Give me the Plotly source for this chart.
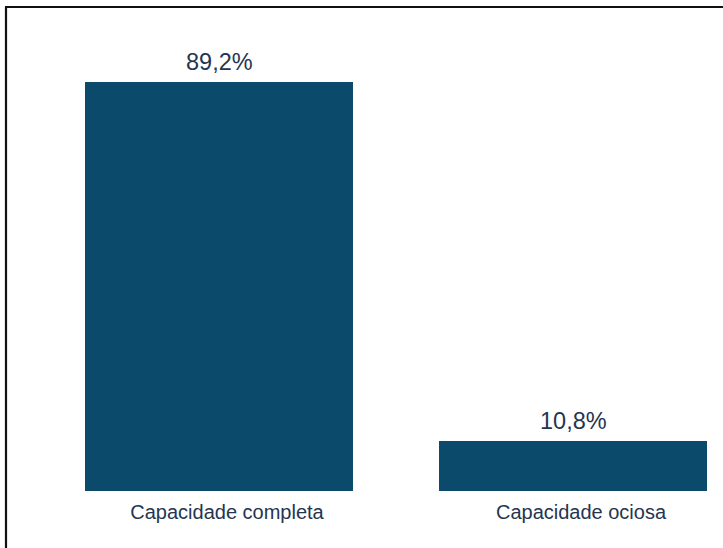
import plotly.graph_objects as go

categories = ["Capacidade completa", "Capacidade ociosa"]
values = [89.2, 10.8]
value_labels = ["89,2%", "10,8%"]

BAR_COLOR = "#0b4a6b"
TEXT_COLOR = "#26354f"

fig = go.Figure()
fig.add_trace(go.Bar(
    x=[0, 1],
    y=values,
    marker=dict(color=BAR_COLOR, line=dict(width=0)),
    width=0.757,
    hoverinfo="skip",
))

for i, (v, t) in enumerate(zip(values, value_labels)):
    fig.add_annotation(
        x=i, y=v, xref="x", yref="y", text=t, showarrow=False,
        yanchor="bottom", yshift=5,
        font=dict(family="Arial, Liberation Sans, sans-serif", size=23.5, color=TEXT_COLOR),
    )

W, H = 723, 548
plot_bottom = 491
fig.update_layout(
    width=W, height=H,
    margin=dict(l=0, r=0, t=0, b=H - plot_bottom, pad=0),
    paper_bgcolor="white", plot_bgcolor="white",
    showlegend=False,
    bargap=0,
    xaxis=dict(
        range=[-219 / 354, (W - 219) / 354],
        tickmode="array", tickvals=[0, 1], ticktext=categories,
        showgrid=False, zeroline=False, showline=False, ticks="",
        ticklabelstandoff=7,
        ticklabelshift=8,
        tickfont=dict(family="Arial, Liberation Sans, sans-serif", size=20, color=TEXT_COLOR),
        fixedrange=True,
    ),
    yaxis=dict(
        range=[0, plot_bottom / 4.585],
        showgrid=False, zeroline=False, showline=False, showticklabels=False, ticks="",
        fixedrange=True,
    ),
)

# frame lines (left and top) of the screenshot border
fy = lambda py: 1 - py / plot_bottom
fig.add_shape(type="line", xref="paper", yref="paper",
              x0=6 / W, x1=6 / W, y0=fy(7), y1=fy(H + 5),
              line=dict(color="#111111", width=2.2))
fig.add_shape(type="line", xref="paper", yref="paper",
              x0=5 / W, x1=1.01, y0=fy(7), y1=fy(7),
              line=dict(color="#111111", width=2.2))

fig.write_html(
    "out.html",
    config={"displayModeBar": False},
    post_script="document.body.style.margin='0';document.body.style.overflow='hidden';",
)
